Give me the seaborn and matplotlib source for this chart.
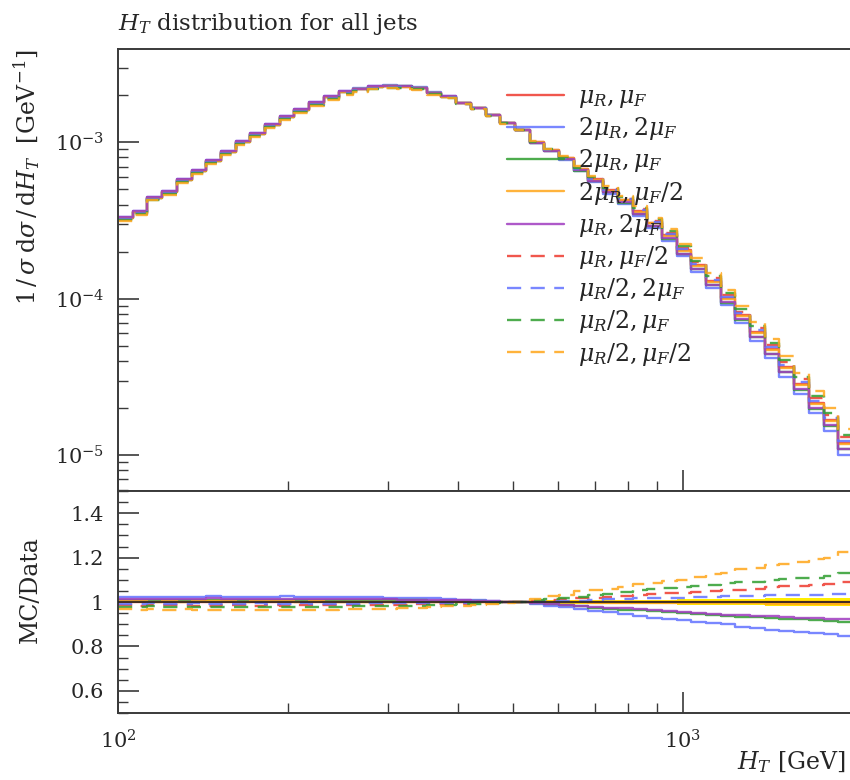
import numpy as np
import pandas as pd
import matplotlib
matplotlib.use("Agg")
import matplotlib.pyplot as plt
import seaborn as sns
from matplotlib.ticker import LogLocator, MultipleLocator, FuncFormatter, NullFormatter

# ---------------- data ----------------
edges = np.geomspace(100, 2000, 51)  # 50 log-spaced H_T bins

nominal = [3.27e-4, 3.57e-4, 4.39e-4, 4.79e-4, 5.72e-4, 6.53e-4, 7.56e-4, 8.63e-4, 1.00e-3, 1.125e-3,
           1.284e-3, 1.444e-3, 1.602e-3, 1.775e-3, 1.94e-3, 2.087e-3, 2.181e-3, 2.246e-3, 2.279e-3, 2.262e-3,
           2.213e-3, 2.056e-3, 1.953e-3, 1.775e-3, 1.650e-3, 1.488e-3, 1.322e-3, 1.193e-3, 1.0e-3, 8.89e-4,
           7.9e-4, 6.72e-4, 5.80e-4, 4.93e-4, 4.26e-4, 3.62e-4, 3.04e-4, 2.54e-4, 2.04e-4, 1.637e-4,
           1.294e-4, 1.007e-4, 7.85e-5, 6.11e-5, 4.76e-5, 3.65e-5, 2.84e-5, 2.15e-5, 1.674e-5, 1.193e-5]

r_ref = [1.0] * 50
r_2R2F = [1.022, 1.024, 1.021, 1.023, 1.022, 1.024, 1.026, 1.023, 1.022, 1.024, 1.023, 1.025, 1.022, 1.024, 1.023,
          1.022, 1.021, 1.022, 1.020, 1.019, 1.018, 1.016, 1.014, 1.011, 1.008, 1.005, 1.002,
          0.999, 0.991, 0.983, 0.976, 0.970, 0.961, 0.953, 0.944, 0.937, 0.930, 0.923, 0.917, 0.911, 0.905,
          0.899, 0.889, 0.883, 0.876, 0.871, 0.866, 0.861, 0.856, 0.845]
r_2RF = [1.009, 1.010, 1.008, 1.009, 1.008, 1.010, 1.011, 1.009, 1.008, 1.010, 1.009, 1.010, 1.008, 1.009, 1.008,
         1.008, 1.008, 1.008, 1.007, 1.007, 1.007, 1.006, 1.005, 1.004, 1.003, 1.002, 1.001,
         1.000, 0.995, 0.990, 0.985, 0.980, 0.975, 0.970, 0.966, 0.962, 0.958, 0.954, 0.949, 0.946, 0.942,
         0.938, 0.934, 0.931, 0.928, 0.925, 0.922, 0.919, 0.916, 0.912]
r_2RFh = [1.003, 1.004, 1.002, 1.003, 1.002, 1.004, 1.004, 1.003, 1.002, 1.003, 1.003, 1.004, 1.002, 1.003, 1.002,
          1.002, 1.002, 1.002, 1.002, 1.001, 1.001, 1.001, 1.001, 1.001, 1.000, 1.000, 1.000,
          1.000, 0.999, 0.999, 0.998, 0.998, 0.997, 0.997, 0.997, 0.996, 0.996, 0.996, 0.995, 0.995, 0.995,
          0.994, 0.994, 0.994, 0.993, 0.993, 0.993, 0.992, 0.992, 0.992]
r_R2F = [1.014, 1.015, 1.013, 1.014, 1.013, 1.015, 1.016, 1.014, 1.013, 1.015, 1.014, 1.015, 1.013, 1.014, 1.013,
         1.013, 1.012, 1.013, 1.012, 1.011, 1.011, 1.010, 1.009, 1.007, 1.005, 1.003, 1.001,
         1.000, 0.996, 0.991, 0.987, 0.983, 0.979, 0.975, 0.972, 0.968, 0.963, 0.958, 0.954, 0.951, 0.947,
         0.943, 0.940, 0.937, 0.935, 0.932, 0.930, 0.928, 0.925, 0.922]
r_RFh = [0.986, 0.984, 0.987, 0.985, 0.986, 0.984, 0.983, 0.986, 0.985, 0.984, 0.986, 0.984, 0.985, 0.986, 0.985,
         0.986, 0.986, 0.987, 0.987, 0.988, 0.989, 0.990, 0.992, 0.993, 0.995, 0.997, 0.999,
         1.000, 1.005, 1.010, 1.013, 1.016, 1.020, 1.022, 1.025, 1.030, 1.034, 1.040, 1.042, 1.044, 1.048,
         1.053, 1.055, 1.058, 1.068, 1.072, 1.074, 1.076, 1.079, 1.089]
r_Rh2F = [0.993, 0.992, 0.994, 0.993, 0.992, 0.994, 0.993, 0.992, 0.993, 0.994, 0.992, 0.993, 0.994, 0.993, 0.992,
          0.993, 0.993, 0.994, 0.994, 0.995, 0.995, 0.996, 0.997, 0.997, 0.998, 0.999, 1.000,
          1.000, 1.002, 1.004, 1.005, 1.006, 1.009, 1.012, 1.014, 1.016, 1.017, 1.018, 1.020, 1.022, 1.024,
          1.026, 1.027, 1.029, 1.031, 1.033, 1.032, 1.031, 1.034, 1.038]
r_RhF = [0.979, 0.977, 0.980, 0.978, 0.979, 0.977, 0.976, 0.979, 0.978, 0.977, 0.979, 0.977, 0.978, 0.979, 0.978,
         0.979, 0.980, 0.980, 0.981, 0.982, 0.984, 0.986, 0.988, 0.990, 0.993, 0.996, 0.998,
         1.001, 1.008, 1.013, 1.018, 1.023, 1.033, 1.038, 1.044, 1.052, 1.057, 1.064, 1.068, 1.072, 1.078,
         1.086, 1.088, 1.090, 1.101, 1.104, 1.106, 1.109, 1.116, 1.129]
r_RhFh = [0.967, 0.965, 0.968, 0.966, 0.967, 0.964, 0.963, 0.966, 0.965, 0.964, 0.966, 0.964, 0.965, 0.966, 0.966,
          0.967, 0.968, 0.969, 0.970, 0.971, 0.973, 0.976, 0.980, 0.984, 0.988, 0.992, 0.996,
          1.001, 1.015, 1.025, 1.033, 1.048, 1.055, 1.060, 1.066, 1.079, 1.086, 1.094, 1.101, 1.114, 1.125,
          1.132, 1.147, 1.155, 1.165, 1.173, 1.180, 1.192, 1.200, 1.227]

ref_err = [0.004, 0.004, 0.004, 0.004, 0.004, 0.004, 0.004, 0.004, 0.004, 0.004,
           0.004, 0.004, 0.004, 0.004, 0.004, 0.004, 0.004, 0.004, 0.004, 0.004,
           0.004, 0.004, 0.004, 0.004, 0.004, 0.005, 0.005, 0.006, 0.006, 0.007,
           0.007, 0.008, 0.008, 0.009, 0.009, 0.010, 0.011, 0.011, 0.012, 0.013,
           0.013, 0.014, 0.015, 0.015, 0.016, 0.017, 0.018, 0.018, 0.019, 0.020]

labels = [r"$\mu_R, \mu_F$", r"$2\mu_R, 2\mu_F$", r"$2\mu_R, \mu_F$", r"$2\mu_R, \mu_F/2$",
          r"$\mu_R, 2\mu_F$", r"$\mu_R, \mu_F/2$", r"$\mu_R/2, 2\mu_F$", r"$\mu_R/2, \mu_F$",
          r"$\mu_R/2, \mu_F/2$"]
ratios = [r_ref, r_2R2F, r_2RF, r_2RFh, r_R2F, r_RFh, r_Rh2F, r_RhF, r_RhFh]

# ---------------- styles ----------------
RED, BLUE, GREEN, ORANGE, PURPLE = "#ee3a2e", "#6272ff", "#2f9e2f", "#ffa61a", "#a03cc0"
colors = [RED, BLUE, GREEN, ORANGE, PURPLE, RED, BLUE, GREEN, ORANGE]
dashed = [False] * 5 + [True] * 4

rows = []
for lab, rat in zip(labels, ratios):
    rr = list(rat) + [rat[-1]]
    nn = list(nominal) + [nominal[-1]]
    for x, r, n in zip(edges, rr, nn):
        rows.append({"series": lab, "HT": x, "ratio": r, "value": n * r})
df = pd.DataFrame(rows)

palette = dict(zip(labels, colors))
dash_map = {lab: ((6, 4) if d else "") for lab, d in zip(labels, dashed)}

sns.set_theme(style="white")
plt.rcParams['font.family'] = ['DejaVu Serif']
plt.rcParams['mathtext.fontset'] = 'dejavuserif'

FS = 17
W, H = 850, 780
fig = plt.figure(figsize=(W / 100, H / 100), dpi=100)
L, R = 118, 853
ax1 = fig.add_axes([L / W, 1 - 491 / H, (R - L) / W, (491 - 49) / H])
ax2 = fig.add_axes([L / W, 1 - 713 / H, (R - L) / W, (713 - 491) / H])

for ax in (ax1, ax2):
    ax.set_xscale("log")

sns.lineplot(data=df, x="HT", y="value", hue="series", style="series", palette=palette,
             dashes=dash_map, drawstyle="steps-post", estimator=None, sort=False,
             linewidth=1.7, alpha=0.85, ax=ax1, legend=False)
ax1.set_yscale("log")

# ratio panel
edges_arr = np.asarray(edges)
err_ext = np.array(list(ref_err) + [ref_err[-1]])
ax2.fill_between(edges_arr, 1 - err_ext, 1 + err_ext, step="post", color="#ffee00", lw=0, zorder=1)
sns.lineplot(data=df, x="HT", y="ratio", hue="series", style="series", palette=palette,
             dashes=dash_map, drawstyle="steps-post", estimator=None, sort=False,
             linewidth=1.7, alpha=0.85, ax=ax2, legend=False)
ax2.plot(edges_arr, np.ones_like(edges_arr), color="#222222", lw=1.2, zorder=5)

# axes limits
ax1.set_xlim(100, 2000)
ax2.set_xlim(100, 2000)
ax1.set_ylim(5.9e-6, 3.95e-3)
ax2.set_ylim(0.5, 1.5)

spine_c = "#3a3a3a"
for ax in (ax1, ax2):
    for s in ax.spines.values():
        s.set_color(spine_c)
        s.set_linewidth(1.4)
    ax.xaxis.set_major_locator(LogLocator(base=10))
    ax.xaxis.set_minor_locator(LogLocator(base=10, subs=np.arange(2, 10)))
    ax.xaxis.set_minor_formatter(NullFormatter())
    ax.tick_params(which="major", direction="in", length=15, width=1.2, color=spine_c,
                   top=False, right=False, bottom=True, left=True, labelsize=15, pad=10)
    ax.tick_params(which="minor", direction="in", length=7, width=1.0, color=spine_c,
                   top=False, right=False, bottom=True, left=True)

ax1.yaxis.set_major_locator(LogLocator(base=10))
ax1.yaxis.set_minor_locator(LogLocator(base=10, subs=np.arange(2, 10)))
ax1.yaxis.set_minor_formatter(NullFormatter())
ax1.tick_params(axis="x", labelbottom=False)

ax2.yaxis.set_major_locator(MultipleLocator(0.2))
ax2.yaxis.set_minor_locator(MultipleLocator(0.05))
ax2.yaxis.set_major_formatter(FuncFormatter(lambda v, _: f"{v:g}"))
ax2.tick_params(axis="x", which="major", pad=12)

lab_x = (42 - L) / (R - L)
ax1.set_xlabel("")
ax1.set_ylabel(r"$1\,/\,\sigma\;\mathrm{d}\sigma\,/\,\mathrm{d}H_T$  [GeV$^{-1}$]", fontsize=FS, loc="top")
ax1.yaxis.set_label_coords(lab_x, 1.0)
ax2.set_ylabel("MC/Data", fontsize=FS)
ax2.yaxis.set_label_coords(lab_x, (713 - 590) / (713 - 491))
ax2.set_xlabel(r"$H_T$ [GeV]", fontsize=FS)
ax2.xaxis.set_label_coords((846 - L) / (R - L), -0.165)
ax2.xaxis.label.set_horizontalalignment("right")
ax1.set_title(r"$H_T$ distribution for all jets", loc="left", fontsize=16.5, pad=14)

handles = ax1.get_lines()[:9]
leg = ax1.legend(handles=handles, labels=labels, loc="upper left",
                 bbox_to_anchor=(507 / W, 1 - 85 / H), bbox_transform=fig.transFigure,
                 frameon=False, fontsize=FS, handlelength=2.4, handletextpad=0.6,
                 labelspacing=0.22, borderpad=0, borderaxespad=0)

fig.savefig("out.png", dpi=100)
